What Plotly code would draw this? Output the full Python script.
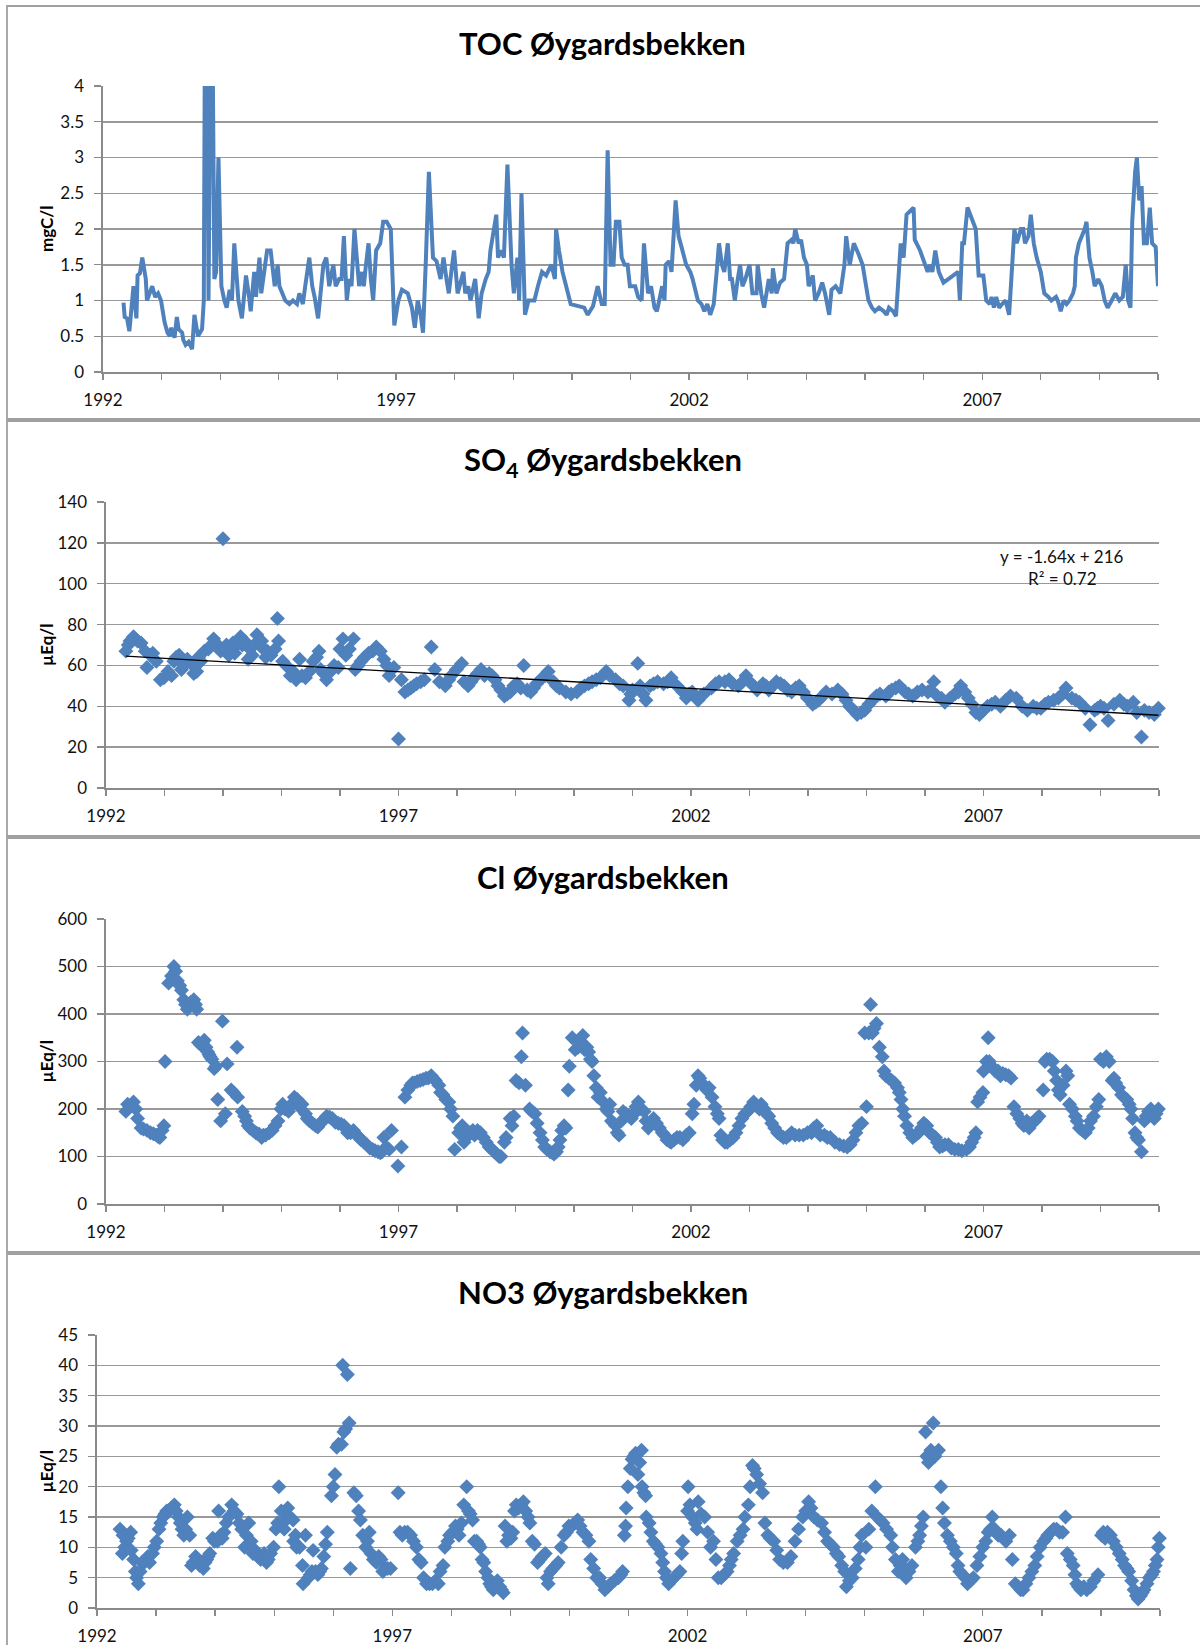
import plotly.graph_objects as go

# ---------------- data (decimal year, value) ----------------
toc_samples = [
    (1992.35, 0.97), (1992.37, 0.77), (1992.41, 0.75), (1992.45, 0.57), (1992.52, 1.2), (1992.57, 0.75),
    (1992.59, 1.35), (1992.63, 1.38), (1992.67, 1.6), (1992.73, 1.3), (1992.75, 1.0), (1992.79, 1.1),
    (1992.84, 1.2), (1992.89, 1.05), (1992.94, 1.1), (1992.99, 1.0),
    (1993.02, 0.8), (1993.05, 0.7), (1993.10, 0.55), (1993.14, 0.5), (1993.16, 0.62), (1993.22, 0.48),
    (1993.26, 0.77), (1993.29, 0.6), (1993.35, 0.55), (1993.37, 0.45), (1993.41, 0.38), (1993.46, 0.42),
    (1993.52, 0.32), (1993.56, 0.8), (1993.62, 0.5), (1993.69, 0.6), (1993.72, 1.0), (1993.74, 5.0),
    (1993.78, 5.0), (1993.80, 1.0), (1993.84, 5.0), (1993.87, 4.6), (1993.90, 1.3), (1993.93, 1.4),
    (1993.97, 3.0),
    (1994.02, 1.2), (1994.07, 1.0), (1994.11, 0.9), (1994.16, 1.15), (1994.20, 1.0), (1994.24, 1.8),
    (1994.31, 1.0), (1994.37, 0.75), (1994.41, 1.1), (1994.44, 1.35), (1994.50, 1.0), (1994.52, 0.85),
    (1994.58, 1.4), (1994.61, 1.05), (1994.67, 1.6), (1994.70, 1.1), (1994.75, 1.4), (1994.80, 1.7),
    (1994.86, 1.7), (1994.90, 1.4), (1994.93, 1.2), (1994.98, 1.5),
    (1995.01, 1.2), (1995.11, 1.0), (1995.18, 0.95), (1995.24, 1.0), (1995.31, 0.95), (1995.35, 1.1),
    (1995.41, 0.95), (1995.45, 1.2), (1995.52, 1.6), (1995.57, 1.2), (1995.61, 1.05), (1995.67, 0.75),
    (1995.72, 1.2), (1995.76, 1.5), (1995.81, 1.6), (1995.86, 1.2), (1995.93, 1.5), (1995.97, 1.2),
    (1996.03, 1.3), (1996.07, 1.3), (1996.11, 1.9), (1996.16, 1.0), (1996.20, 1.3), (1996.24, 1.2),
    (1996.29, 2.0), (1996.33, 1.5), (1996.37, 1.2), (1996.42, 1.4), (1996.45, 1.2), (1996.48, 1.45),
    (1996.53, 1.8), (1996.57, 1.3), (1996.61, 1.0), (1996.66, 1.7), (1996.73, 1.8), (1996.78, 2.1),
    (1996.84, 2.1), (1996.91, 2.0), (1996.97, 0.65),
    (1997.04, 1.0), (1997.10, 1.15), (1997.20, 1.1), (1997.27, 0.9), (1997.32, 0.62), (1997.37, 1.0),
    (1997.42, 0.8), (1997.46, 0.55), (1997.51, 1.6), (1997.56, 2.8), (1997.63, 1.6), (1997.69, 1.55),
    (1997.76, 1.3), (1997.81, 1.6), (1997.86, 1.3), (1997.90, 1.1), (1997.95, 1.45), (1997.99, 1.7),
    (1998.05, 1.1), (1998.15, 1.4), (1998.18, 1.1), (1998.23, 1.2), (1998.27, 1.0), (1998.35, 1.3),
    (1998.41, 0.75), (1998.46, 1.1), (1998.53, 1.3), (1998.58, 1.4), (1998.61, 1.7), (1998.71, 2.2),
    (1998.74, 1.6), (1998.79, 1.7), (1998.84, 1.6), (1998.90, 2.9), (1998.97, 1.5),
    (1999.01, 1.1), (1999.07, 1.6), (1999.10, 1.0), (1999.14, 2.5), (1999.20, 0.8), (1999.26, 1.0),
    (1999.36, 1.0), (1999.42, 1.2), (1999.49, 1.4), (1999.56, 1.35), (1999.65, 1.5), (1999.71, 1.3),
    (1999.73, 2.0), (1999.78, 1.7), (1999.84, 1.4), (1999.98, 0.95),
    (2000.21, 0.9), (2000.27, 0.8), (2000.36, 0.92), (2000.44, 1.2), (2000.51, 0.95), (2000.56, 0.95),
    (2000.61, 3.1), (2000.66, 1.5), (2000.71, 1.5), (2000.75, 2.1), (2000.81, 2.1), (2000.85, 1.6),
    (2000.90, 1.5), (2000.95, 1.5), (2000.99, 1.2),
    (2001.08, 1.2), (2001.13, 1.05), (2001.19, 1.0), (2001.23, 1.8), (2001.30, 1.1), (2001.35, 1.2),
    (2001.41, 0.9), (2001.45, 0.85), (2001.49, 1.0), (2001.54, 1.2), (2001.58, 1.0), (2001.60, 1.5),
    (2001.66, 1.55), (2001.70, 1.4), (2001.77, 2.4), (2001.82, 1.9), (2001.87, 1.75), (2001.95, 1.5),
    (2002.02, 1.4), (2002.06, 1.3), (2002.15, 1.0), (2002.21, 0.95), (2002.26, 0.85), (2002.31, 0.95),
    (2002.36, 0.8), (2002.42, 0.95), (2002.47, 1.4), (2002.51, 1.8), (2002.56, 1.5), (2002.60, 1.4),
    (2002.66, 1.8), (2002.70, 1.3), (2002.73, 1.3), (2002.78, 1.0), (2002.83, 1.3), (2002.87, 1.5),
    (2002.91, 1.2), (2002.96, 1.3),
    (2003.03, 1.5), (2003.08, 1.1), (2003.15, 1.1), (2003.17, 1.5), (2003.23, 1.1), (2003.28, 0.9),
    (2003.36, 1.3), (2003.41, 1.1), (2003.43, 1.45), (2003.49, 1.1), (2003.55, 1.25), (2003.62, 1.3),
    (2003.68, 1.8), (2003.75, 1.85), (2003.78, 1.8), (2003.81, 2.0), (2003.87, 1.8), (2003.91, 1.85),
    (2003.96, 1.6),
    (2004.01, 1.5), (2004.04, 1.2), (2004.11, 1.35), (2004.15, 1.0), (2004.21, 1.1), (2004.27, 1.25),
    (2004.32, 1.1), (2004.39, 0.8), (2004.43, 1.15), (2004.50, 1.2), (2004.58, 1.1), (2004.65, 1.5),
    (2004.68, 1.9), (2004.74, 1.5), (2004.81, 1.8), (2004.89, 1.65), (2004.96, 1.5),
    (2005.06, 1.0), (2005.12, 0.9), (2005.17, 0.85), (2005.24, 0.9), (2005.32, 0.85), (2005.37, 0.8),
    (2005.41, 0.9), (2005.48, 0.85), (2005.53, 0.78), (2005.61, 1.8), (2005.66, 1.6), (2005.71, 2.2),
    (2005.83, 2.3), (2005.85, 1.85), (2005.94, 1.7),
    (2006.02, 1.5), (2006.07, 1.4), (2006.11, 1.5), (2006.15, 1.4), (2006.20, 1.7), (2006.26, 1.4),
    (2006.34, 1.25), (2006.43, 1.3), (2006.53, 1.35), (2006.59, 1.4), (2006.62, 1.0), (2006.66, 1.8),
    (2006.69, 1.8), (2006.75, 2.3), (2006.82, 2.15), (2006.89, 2.0), (2006.94, 1.35),
    (2007.02, 1.35), (2007.07, 1.0), (2007.13, 0.95), (2007.16, 1.05), (2007.20, 0.9), (2007.24, 1.05),
    (2007.29, 0.9), (2007.34, 0.95), (2007.40, 1.0), (2007.46, 0.8), (2007.51, 1.5), (2007.55, 2.0),
    (2007.59, 1.8), (2007.66, 2.0), (2007.70, 2.0), (2007.73, 1.8), (2007.79, 1.9), (2007.83, 2.2),
    (2007.88, 1.8), (2007.93, 1.6),
    (2008.00, 1.4), (2008.06, 1.1), (2008.13, 1.05), (2008.18, 1.0), (2008.26, 1.05), (2008.29, 1.0),
    (2008.34, 0.85), (2008.39, 1.0), (2008.44, 0.95), (2008.49, 1.0), (2008.55, 1.1), (2008.58, 1.2),
    (2008.60, 1.6), (2008.65, 1.8), (2008.70, 1.9), (2008.75, 2.0), (2008.78, 2.1), (2008.83, 1.6),
    (2008.88, 1.4), (2008.92, 1.2), (2008.98, 1.3),
    (2009.04, 1.2), (2009.09, 1.0), (2009.14, 0.9), (2009.21, 1.0), (2009.27, 1.1), (2009.34, 1.0),
    (2009.40, 1.05), (2009.45, 1.5), (2009.49, 1.0), (2009.53, 0.9), (2009.56, 2.1), (2009.61, 2.8),
    (2009.64, 3.0), (2009.68, 2.4), (2009.72, 2.6), (2009.76, 1.8), (2009.81, 1.8), (2009.86, 2.3),
    (2009.90, 1.8), (2009.96, 1.75), (2010.00, 1.2),
]

so4_samples = [
    (1992.34, 67), (1992.38, 70), (1992.41, 72), (1992.47, 74), (1992.50, 73), (1992.54, 72),
    (1992.60, 71), (1992.67, 67), (1992.70, 59), (1992.76, 65), (1992.80, 66), (1992.86, 62),
    (1992.93, 53), (1992.99, 54),
    (1993.06, 57), (1993.12, 55), (1993.16, 62), (1993.20, 64), (1993.25, 65), (1993.29, 58),
    (1993.33, 60), (1993.39, 63), (1993.45, 61), (1993.50, 56), (1993.55, 57), (1993.58, 64),
    (1993.62, 62), (1993.68, 67), (1993.75, 68), (1993.80, 70), (1993.84, 73), (1993.91, 70),
    (1993.96, 67),
    (1994.00, 122), (1994.04, 68), (1994.06, 70), (1994.10, 65), (1994.17, 71), (1994.20, 66),
    (1994.24, 70), (1994.30, 74), (1994.33, 70), (1994.37, 72), (1994.43, 63), (1994.46, 68),
    (1994.50, 65), (1994.53, 70), (1994.58, 75), (1994.63, 70), (1994.66, 72), (1994.69, 68),
    (1994.73, 64), (1994.76, 67), (1994.82, 65), (1994.89, 68), (1994.93, 83), (1994.95, 72),
    (1995.02, 62), (1995.08, 60), (1995.15, 55), (1995.20, 57), (1995.25, 53), (1995.31, 63),
    (1995.35, 55), (1995.41, 54), (1995.48, 57), (1995.54, 62), (1995.60, 64), (1995.64, 67),
    (1995.67, 58), (1995.72, 56), (1995.77, 53), (1995.84, 57), (1995.90, 60), (1995.97, 59),
    (1996.00, 68), (1996.05, 73), (1996.10, 65), (1996.16, 68), (1996.23, 73), (1996.26, 58),
    (1996.31, 60), (1996.36, 62), (1996.42, 64), (1996.49, 66), (1996.56, 67), (1996.62, 69),
    (1996.69, 67), (1996.75, 63), (1996.80, 60), (1996.84, 55), (1996.92, 59),
    (1997.00, 24), (1997.05, 53), (1997.11, 47), (1997.16, 48), (1997.21, 49), (1997.26, 50),
    (1997.31, 51), (1997.38, 52), (1997.44, 53), (1997.56, 69), (1997.62, 58), (1997.70, 52),
    (1997.80, 50), (1997.86, 53), (1997.90, 55), (1997.99, 58),
    (1998.08, 61), (1998.12, 52), (1998.19, 50), (1998.24, 52), (1998.29, 54), (1998.35, 56),
    (1998.41, 58), (1998.47, 55), (1998.55, 56), (1998.60, 55), (1998.65, 53), (1998.70, 50),
    (1998.75, 48), (1998.81, 45), (1998.86, 46), (1998.91, 47), (1998.97, 50),
    (1999.03, 51), (1999.09, 49), (1999.14, 60), (1999.20, 48), (1999.26, 47), (1999.31, 49),
    (1999.36, 51), (1999.46, 54), (1999.51, 55), (1999.56, 57), (1999.65, 52), (1999.70, 50),
    (1999.75, 49), (1999.86, 47), (1999.95, 46),
    (2000.05, 47), (2000.12, 49), (2000.18, 50), (2000.25, 51), (2000.31, 52), (2000.38, 53),
    (2000.45, 54), (2000.55, 57), (2000.61, 55), (2000.71, 53), (2000.78, 51), (2000.84, 50),
    (2000.94, 43), (2000.97, 46),
    (2001.00, 48), (2001.09, 61), (2001.13, 50), (2001.18, 46), (2001.23, 43), (2001.30, 50),
    (2001.36, 51), (2001.43, 52), (2001.53, 51), (2001.60, 52), (2001.66, 54), (2001.76, 50),
    (2001.86, 47), (2001.92, 44), (2001.97, 46),
    (2002.02, 47), (2002.12, 43), (2002.17, 45), (2002.22, 46), (2002.35, 49), (2002.42, 51),
    (2002.48, 52), (2002.58, 52), (2002.65, 53), (2002.71, 51), (2002.81, 50), (2002.88, 52),
    (2002.94, 55),
    (2003.00, 52), (2003.07, 50), (2003.13, 48), (2003.23, 51), (2003.28, 50), (2003.33, 48),
    (2003.40, 50), (2003.46, 52), (2003.53, 51), (2003.59, 50), (2003.65, 48), (2003.72, 47),
    (2003.79, 49), (2003.85, 50), (2003.92, 47), (2003.99, 44),
    (2004.08, 41), (2004.13, 42), (2004.18, 43), (2004.25, 45), (2004.31, 47), (2004.41, 46),
    (2004.51, 48), (2004.58, 46), (2004.65, 43), (2004.71, 40), (2004.78, 38), (2004.84, 36),
    (2004.91, 37), (2004.97, 38),
    (2005.04, 41), (2005.10, 43), (2005.17, 45), (2005.23, 46), (2005.33, 45), (2005.38, 47),
    (2005.43, 48), (2005.50, 49), (2005.56, 50), (2005.66, 47), (2005.72, 46), (2005.79, 45),
    (2005.87, 47), (2005.95, 48),
    (2006.05, 47), (2006.10, 48), (2006.15, 52), (2006.21, 45), (2006.28, 44), (2006.34, 42),
    (2006.43, 44), (2006.51, 46), (2006.57, 47), (2006.61, 50), (2006.68, 47), (2006.74, 44),
    (2006.80, 41), (2006.87, 37), (2006.93, 36),
    (2007.00, 38), (2007.07, 40), (2007.14, 41), (2007.20, 42), (2007.29, 40), (2007.38, 43),
    (2007.46, 45), (2007.56, 44), (2007.66, 40), (2007.75, 38), (2007.85, 40), (2007.91, 39),
    (2007.98, 39),
    (2008.05, 41), (2008.11, 42), (2008.20, 43), (2008.28, 44), (2008.35, 46), (2008.41, 49),
    (2008.51, 44), (2008.58, 43), (2008.64, 42), (2008.74, 39), (2008.82, 31), (2008.90, 38),
    (2008.95, 39),
    (2009.00, 40), (2009.06, 39), (2009.13, 33), (2009.23, 41), (2009.33, 43), (2009.40, 41),
    (2009.46, 40), (2009.56, 42), (2009.62, 37), (2009.70, 25), (2009.75, 38), (2009.83, 37),
    (2009.92, 36), (2009.99, 39),
]

cl_samples = [
    (1992.34, 195), (1992.37, 210), (1992.41, 205), (1992.47, 215), (1992.51, 200), (1992.54, 180),
    (1992.60, 160), (1992.64, 158), (1992.70, 155), (1992.76, 150), (1992.81, 148), (1992.86, 145),
    (1992.89, 142), (1992.92, 140), (1992.96, 155), (1992.99, 165),
    (1993.01, 300), (1993.07, 465), (1993.12, 480), (1993.16, 500), (1993.19, 490), (1993.22, 470),
    (1993.26, 460), (1993.29, 450), (1993.33, 430), (1993.36, 420), (1993.39, 410), (1993.42, 415),
    (1993.45, 425), (1993.50, 430), (1993.53, 420), (1993.55, 410), (1993.58, 340), (1993.62, 335),
    (1993.65, 340), (1993.68, 345), (1993.71, 330), (1993.74, 320), (1993.76, 315), (1993.78, 310),
    (1993.81, 305), (1993.85, 285), (1993.88, 290), (1993.91, 220), (1993.96, 175), (1993.99, 385),
    (1994.04, 190), (1994.07, 295), (1994.14, 240), (1994.18, 235), (1994.24, 330), (1994.25, 225),
    (1994.33, 195), (1994.37, 185), (1994.40, 175), (1994.43, 165), (1994.46, 160), (1994.51, 155),
    (1994.56, 150), (1994.59, 148), (1994.62, 147), (1994.66, 140), (1994.69, 145), (1994.73, 145),
    (1994.79, 150), (1994.84, 155), (1994.89, 165), (1994.94, 175), (1994.99, 200),
    (1995.02, 210), (1995.06, 200), (1995.12, 195), (1995.17, 210), (1995.22, 225), (1995.27, 220),
    (1995.30, 205), (1995.35, 210), (1995.41, 190), (1995.44, 180), (1995.48, 175), (1995.53, 170),
    (1995.58, 165), (1995.62, 162), (1995.67, 170), (1995.72, 178), (1995.77, 185), (1995.82, 183),
    (1995.87, 180), (1995.92, 172), (1995.97, 170),
    (1996.02, 168), (1996.07, 165), (1996.10, 160), (1996.13, 150), (1996.18, 150), (1996.23, 155),
    (1996.26, 148), (1996.29, 145), (1996.33, 140), (1996.36, 135), (1996.41, 130), (1996.46, 125),
    (1996.51, 118), (1996.56, 115), (1996.60, 112), (1996.65, 110), (1996.69, 108), (1996.72, 110),
    (1996.75, 140), (1996.79, 120), (1996.84, 115), (1996.88, 155), (1996.99, 80),
    (1997.05, 120), (1997.11, 225), (1997.16, 240), (1997.21, 250), (1997.24, 255), (1997.27, 255),
    (1997.32, 258), (1997.37, 260), (1997.42, 262), (1997.47, 265), (1997.51, 265), (1997.56, 270),
    (1997.59, 265), (1997.63, 260), (1997.69, 250), (1997.72, 235), (1997.76, 230), (1997.81, 220),
    (1997.86, 215), (1997.89, 200), (1997.93, 185), (1997.96, 115),
    (1998.03, 150), (1998.06, 160), (1998.09, 165), (1998.12, 130), (1998.16, 140), (1998.22, 150),
    (1998.27, 155), (1998.30, 145), (1998.35, 155), (1998.40, 150), (1998.45, 140), (1998.50, 130),
    (1998.55, 120), (1998.60, 115), (1998.64, 110), (1998.68, 105), (1998.72, 100), (1998.75, 100),
    (1998.81, 130), (1998.84, 140), (1998.91, 180), (1998.94, 165), (1998.97, 185),
    (1999.01, 260), (1999.06, 255), (1999.10, 310), (1999.12, 360), (1999.17, 250), (1999.24, 200),
    (1999.28, 195), (1999.33, 190), (1999.37, 170), (1999.42, 150), (1999.46, 135), (1999.50, 120),
    (1999.54, 115), (1999.59, 110), (1999.63, 108), (1999.66, 105), (1999.70, 110), (1999.73, 120),
    (1999.76, 135), (1999.79, 155), (1999.83, 165), (1999.86, 160), (1999.90, 240), (1999.92, 290),
    (1999.97, 350),
    (2000.02, 325), (2000.07, 330), (2000.10, 345), (2000.15, 355), (2000.18, 325), (2000.22, 330),
    (2000.25, 320), (2000.28, 305), (2000.31, 300), (2000.34, 270), (2000.38, 245), (2000.41, 225),
    (2000.45, 235), (2000.50, 215), (2000.55, 200), (2000.58, 195), (2000.61, 210), (2000.64, 175),
    (2000.68, 170), (2000.71, 165), (2000.74, 150), (2000.77, 145), (2000.81, 175), (2000.84, 195),
    (2000.89, 190), (2000.94, 185), (2000.98, 180),
    (2001.03, 190), (2001.06, 205), (2001.10, 215), (2001.15, 200), (2001.20, 195), (2001.23, 175),
    (2001.27, 160), (2001.31, 170), (2001.36, 180), (2001.41, 170), (2001.46, 160), (2001.51, 150),
    (2001.55, 145), (2001.59, 135), (2001.63, 132), (2001.66, 130), (2001.71, 135), (2001.76, 140),
    (2001.81, 140), (2001.86, 135), (2001.92, 145), (2001.97, 150),
    (2002.02, 190), (2002.05, 210), (2002.09, 250), (2002.12, 270), (2002.15, 265), (2002.18, 255),
    (2002.22, 250), (2002.27, 240), (2002.31, 245), (2002.36, 225), (2002.41, 205), (2002.45, 190),
    (2002.48, 180), (2002.51, 145), (2002.54, 135), (2002.58, 130), (2002.62, 130), (2002.67, 135),
    (2002.72, 140), (2002.77, 150), (2002.82, 165), (2002.87, 180), (2002.92, 190), (2002.97, 195),
    (2003.02, 205), (2003.07, 215), (2003.10, 210), (2003.13, 205), (2003.17, 200), (2003.20, 210),
    (2003.25, 200), (2003.29, 190), (2003.33, 185), (2003.38, 170), (2003.43, 160), (2003.48, 150),
    (2003.53, 145), (2003.58, 140), (2003.63, 140), (2003.68, 145), (2003.72, 150), (2003.78, 145),
    (2003.85, 145), (2003.92, 145), (2003.99, 150),
    (2004.06, 150), (2004.10, 160), (2004.15, 165), (2004.21, 145), (2004.28, 145), (2004.33, 140),
    (2004.38, 140), (2004.46, 130), (2004.54, 125), (2004.61, 122), (2004.67, 120), (2004.72, 125),
    (2004.77, 135), (2004.82, 150), (2004.87, 165), (2004.92, 170), (2004.97, 360),
    (2005.00, 205), (2005.04, 360), (2005.07, 420), (2005.10, 360), (2005.13, 370), (2005.17, 380),
    (2005.22, 330), (2005.27, 310), (2005.30, 280), (2005.33, 270), (2005.38, 265), (2005.43, 260),
    (2005.48, 255), (2005.53, 245), (2005.56, 235), (2005.59, 220), (2005.62, 200), (2005.65, 185),
    (2005.69, 165), (2005.74, 150), (2005.79, 140), (2005.84, 145), (2005.89, 150), (2005.94, 160),
    (2005.98, 170),
    (2006.03, 165), (2006.08, 150), (2006.13, 145), (2006.18, 140), (2006.21, 130), (2006.25, 120),
    (2006.30, 122), (2006.34, 125), (2006.40, 125), (2006.45, 118), (2006.51, 115), (2006.57, 115),
    (2006.63, 112), (2006.71, 115), (2006.76, 120), (2006.80, 130), (2006.84, 140), (2006.87, 150),
    (2006.90, 215), (2006.94, 225), (2006.99, 235),
    (2007.00, 280), (2007.05, 300), (2007.08, 350), (2007.10, 300), (2007.14, 290), (2007.20, 280),
    (2007.25, 280), (2007.29, 270), (2007.33, 275), (2007.38, 272), (2007.43, 270), (2007.47, 265),
    (2007.52, 205), (2007.57, 190), (2007.62, 180), (2007.66, 170), (2007.69, 165), (2007.74, 175),
    (2007.78, 160), (2007.82, 170), (2007.88, 175), (2007.91, 180), (2007.95, 185),
    (2008.02, 240), (2008.05, 300), (2008.08, 305), (2008.13, 305), (2008.18, 300), (2008.21, 280),
    (2008.25, 260), (2008.28, 240), (2008.31, 230), (2008.36, 250), (2008.41, 280), (2008.44, 270),
    (2008.47, 210), (2008.52, 200), (2008.57, 185), (2008.60, 175), (2008.64, 160), (2008.69, 155),
    (2008.74, 150), (2008.79, 160), (2008.83, 175), (2008.88, 185), (2008.93, 205), (2008.97, 220),
    (2009.00, 305), (2009.05, 300), (2009.10, 310), (2009.15, 300), (2009.20, 260), (2009.23, 265),
    (2009.26, 255), (2009.31, 245), (2009.36, 230), (2009.40, 225), (2009.45, 220), (2009.49, 210),
    (2009.52, 200), (2009.55, 180), (2009.59, 150), (2009.62, 140), (2009.65, 135), (2009.70, 110),
    (2009.75, 175), (2009.78, 185), (2009.82, 195), (2009.86, 200), (2009.92, 180), (2009.95, 190),
    (2009.99, 200),
]

no3_samples = [
    (1992.39, 13), (1992.43, 9), (1992.44, 12), (1992.47, 10), (1992.50, 11), (1992.53, 11.5),
    (1992.57, 12.5), (1992.58, 9.5), (1992.62, 8), (1992.65, 6), (1992.67, 5), (1992.70, 4),
    (1992.73, 6), (1992.76, 7.5), (1992.80, 7.5), (1992.83, 8), (1992.86, 8.5), (1992.89, 7.5),
    (1992.94, 9), (1992.97, 10),
    (1993.01, 11), (1993.05, 13), (1993.08, 14), (1993.12, 15), (1993.15, 15.5), (1993.18, 16),
    (1993.22, 16), (1993.26, 16.5), (1993.31, 17), (1993.34, 16), (1993.38, 15), (1993.41, 14),
    (1993.44, 13), (1993.47, 12), (1993.50, 13), (1993.53, 15), (1993.57, 12), (1993.60, 7),
    (1993.63, 7.5), (1993.67, 8.5), (1993.70, 8), (1993.74, 7), (1993.77, 7.5), (1993.80, 6.5),
    (1993.83, 7.5), (1993.86, 8), (1993.88, 8.5), (1993.91, 9), (1993.96, 11.5), (1993.99, 11),
    (1994.04, 11), (1994.06, 16), (1994.09, 12), (1994.12, 11.5), (1994.15, 12.5), (1994.19, 14),
    (1994.23, 15), (1994.28, 17), (1994.32, 16), (1994.37, 15.5), (1994.41, 14), (1994.45, 13),
    (1994.50, 10), (1994.53, 12), (1994.57, 14), (1994.61, 11), (1994.64, 9), (1994.68, 9.5),
    (1994.72, 8.5), (1994.77, 8), (1994.80, 8.5), (1994.83, 9), (1994.87, 7.5), (1994.90, 8),
    (1994.94, 9), (1994.99, 10),
    (1995.03, 13), (1995.06, 14), (1995.08, 20), (1995.12, 16), (1995.17, 13), (1995.20, 14.5),
    (1995.23, 16.5), (1995.27, 15), (1995.32, 14.5), (1995.33, 11), (1995.36, 12), (1995.38, 10),
    (1995.43, 10), (1995.48, 7), (1995.49, 4), (1995.53, 12), (1995.58, 5), (1995.61, 5.5),
    (1995.64, 6), (1995.66, 9.5), (1995.70, 6), (1995.74, 5.5), (1995.77, 6), (1995.80, 6.5),
    (1995.84, 8.5), (1995.87, 10.5), (1995.90, 12.5), (1995.97, 18.5),
    (1996.00, 20), (1996.03, 22), (1996.06, 26.5), (1996.09, 27), (1996.14, 27), (1996.16, 40),
    (1996.18, 29), (1996.21, 29.5), (1996.24, 38.5), (1996.27, 30.5), (1996.29, 6.5), (1996.35, 19),
    (1996.39, 18.5), (1996.43, 16), (1996.46, 14.5), (1996.50, 12), (1996.55, 10), (1996.58, 11),
    (1996.61, 12.5), (1996.64, 9), (1996.68, 8), (1996.73, 7.5), (1996.77, 8.5), (1996.81, 8),
    (1996.84, 6), (1996.88, 6.5), (1996.92, 6.5), (1996.97, 6.5),
    (1997.10, 19), (1997.13, 12.5), (1997.17, 12), (1997.21, 12.5), (1997.26, 12.5), (1997.31, 12),
    (1997.36, 11), (1997.41, 10), (1997.45, 8), (1997.49, 7.5), (1997.53, 5), (1997.58, 4),
    (1997.63, 4), (1997.68, 4), (1997.73, 4.5), (1997.78, 4), (1997.81, 6), (1997.86, 7),
    (1997.89, 10), (1997.94, 11), (1997.97, 12),
    (1998.02, 12.5), (1998.07, 13.5), (1998.10, 13), (1998.13, 12), (1998.17, 14), (1998.21, 17),
    (1998.26, 20), (1998.29, 16), (1998.32, 15.5), (1998.36, 14.5), (1998.39, 11), (1998.43, 11),
    (1998.46, 10.5), (1998.49, 10), (1998.52, 8), (1998.55, 7.5), (1998.58, 6), (1998.62, 5),
    (1998.65, 4), (1998.68, 3.5), (1998.71, 3), (1998.74, 3.5), (1998.78, 4.5), (1998.82, 3.5),
    (1998.85, 3), (1998.88, 2.5), (1998.91, 13.5), (1998.94, 11), (1998.97, 12),
    (1999.01, 11.5), (1999.04, 12.5), (1999.07, 16), (1999.10, 17), (1999.14, 16.5), (1999.18, 17),
    (1999.22, 17.5), (1999.26, 16), (1999.30, 15), (1999.33, 14), (1999.37, 11), (1999.41, 10.5),
    (1999.46, 7.5), (1999.50, 8), (1999.54, 8.5), (1999.59, 9), (1999.62, 5), (1999.64, 4),
    (1999.68, 6), (1999.72, 6.5), (1999.77, 7), (1999.81, 7.5), (1999.86, 10), (1999.91, 12),
    (1999.95, 12.5), (1999.99, 13.5),
    (2000.04, 13.5), (2000.09, 14), (2000.14, 14.5), (2000.18, 13.5), (2000.23, 12.5), (2000.28, 12),
    (2000.33, 11), (2000.36, 8), (2000.41, 6.5), (2000.46, 5), (2000.51, 5), (2000.55, 4),
    (2000.60, 3), (2000.65, 3.5), (2000.70, 4), (2000.76, 4.5), (2000.83, 5), (2000.87, 5.5),
    (2000.90, 6), (2000.93, 12), (2000.95, 13.5), (2000.96, 16.5), (2000.99, 20),
    (2001.03, 23), (2001.06, 24.5), (2001.09, 25), (2001.12, 25.5), (2001.16, 22), (2001.19, 24),
    (2001.22, 26), (2001.23, 20), (2001.26, 19), (2001.29, 18.5), (2001.30, 15), (2001.35, 14),
    (2001.38, 12.5), (2001.42, 11), (2001.46, 10.5), (2001.50, 10), (2001.55, 9), (2001.58, 7.5),
    (2001.61, 6), (2001.64, 5), (2001.68, 4), (2001.72, 4.5), (2001.77, 5), (2001.82, 5.5),
    (2001.87, 6), (2001.90, 9), (2001.92, 11),
    (2002.00, 16), (2002.01, 20), (2002.04, 17), (2002.08, 15), (2002.13, 14), (2002.16, 13),
    (2002.18, 17.5), (2002.23, 15.5), (2002.29, 15), (2002.34, 12.5), (2002.39, 10), (2002.44, 11),
    (2002.48, 8), (2002.52, 5), (2002.57, 5), (2002.62, 5.5), (2002.67, 6), (2002.71, 7),
    (2002.74, 8), (2002.78, 9), (2002.84, 11), (2002.89, 12), (2002.94, 13), (2002.97, 15),
    (2003.03, 17), (2003.06, 20), (2003.10, 23.5), (2003.13, 23), (2003.17, 22), (2003.22, 20.5),
    (2003.27, 19), (2003.31, 14), (2003.36, 12), (2003.40, 11.5), (2003.46, 11), (2003.51, 9.5),
    (2003.56, 8), (2003.62, 7.5), (2003.69, 7.5), (2003.75, 8.5), (2003.82, 11), (2003.88, 13),
    (2003.95, 15),
    (2004.00, 16), (2004.05, 17.5), (2004.09, 16.5), (2004.14, 15), (2004.20, 14.5), (2004.27, 14),
    (2004.32, 12.5), (2004.37, 11), (2004.42, 10.5), (2004.47, 10), (2004.52, 9), (2004.56, 8.5),
    (2004.61, 7), (2004.66, 6), (2004.69, 3.5), (2004.74, 4.5), (2004.79, 5), (2004.84, 6.5),
    (2004.89, 8), (2004.92, 10), (2004.95, 12),
    (2005.02, 10), (2005.07, 13), (2005.12, 16), (2005.18, 20), (2005.21, 15), (2005.26, 14.5),
    (2005.31, 14), (2005.37, 13), (2005.44, 12), (2005.47, 10), (2005.52, 8), (2005.57, 6),
    (2005.60, 7), (2005.64, 8), (2005.67, 6.5), (2005.70, 5), (2005.75, 6), (2005.80, 7),
    (2005.86, 10), (2005.90, 11), (2005.93, 12), (2005.96, 13.5), (2005.99, 15),
    (2006.03, 29), (2006.05, 25), (2006.08, 24), (2006.12, 26), (2006.16, 30.5), (2006.19, 25),
    (2006.25, 26), (2006.29, 20), (2006.32, 16.5), (2006.35, 14), (2006.40, 12), (2006.45, 11),
    (2006.50, 10), (2006.55, 9), (2006.58, 7), (2006.61, 6), (2006.66, 5.5), (2006.70, 5),
    (2006.74, 4), (2006.79, 4.5), (2006.84, 5), (2006.90, 7), (2006.95, 8.5),
    (2007.00, 10), (2007.05, 11), (2007.09, 12.5), (2007.13, 13), (2007.16, 15), (2007.20, 13),
    (2007.26, 12), (2007.31, 12), (2007.35, 11.5), (2007.39, 11), (2007.45, 12), (2007.50, 8),
    (2007.55, 4), (2007.60, 3.5), (2007.64, 3), (2007.68, 3), (2007.73, 4), (2007.78, 5),
    (2007.83, 6), (2007.88, 7), (2007.92, 8.5), (2007.97, 10),
    (2008.03, 11), (2008.07, 11.5), (2008.10, 12), (2008.15, 12.5), (2008.20, 13), (2008.25, 13),
    (2008.30, 12.5), (2008.35, 12.5), (2008.40, 15), (2008.43, 9), (2008.48, 8), (2008.53, 7),
    (2008.56, 5.5), (2008.59, 4), (2008.62, 3.5), (2008.66, 3), (2008.71, 3.5), (2008.76, 3),
    (2008.82, 3.5), (2008.88, 4.5), (2008.95, 5.5),
    (2009.01, 12), (2009.04, 12.5), (2009.07, 11.5), (2009.11, 12.5), (2009.16, 12), (2009.21, 11),
    (2009.26, 10), (2009.31, 9), (2009.36, 8), (2009.40, 7), (2009.44, 6.5), (2009.47, 6),
    (2009.52, 4.5), (2009.56, 3), (2009.60, 2), (2009.63, 1.5), (2009.67, 2), (2009.70, 2.5),
    (2009.73, 3), (2009.78, 4), (2009.82, 5), (2009.86, 5.5), (2009.89, 6), (2009.92, 7),
    (2009.95, 8), (2009.97, 10), (2009.99, 11.5),
]

# linear trend shown on the SO4 chart: y = -1.64x + 216 (x = year - 1900), R2 = 0.72
so4_slope = -1.64
so4_intercept = 216
so4_r2 = 0.72

x_label_years = [1992, 1997, 2002, 2007]
x_labels = ["1992", "1997", "2002", "2007"]
x_minor_years = list(range(1992, 2011))
toc_ticks = [0, 0.5, 1, 1.5, 2, 2.5, 3, 3.5, 4]
so4_ticks = [0, 20, 40, 60, 80, 100, 120, 140]
cl_ticks = [0, 100, 200, 300, 400, 500, 600]
no3_ticks = [0, 5, 10, 15, 20, 25, 30, 35, 40, 45]

titles = ["TOC Øygardsbekken", "SO<sub>4</sub> Øygardsbekken", "Cl Øygardsbekken", "NO3 Øygardsbekken"]
y_titles = ["mgC/l", "µEq/l", "µEq/l", "µEq/l"]

# ---------------- styling / layout ----------------
W, H = 1200, 1645
BLUE = "#4F81BD"
GRID = "#999999"
AXIS = "#8a8a8a"
FONT = "Lato"
TXT = "#111111"

boxes = [  # plot areas in pixels: left, right, top, bottom
    (103, 1158, 86, 372),
    (106, 1159, 502, 788),
    (106, 1159, 919, 1204),
    (97, 1160, 1335, 1608),
]
title_y = [43, 462, 877, 1292]
panel_frames = [(7, 6, 1230, 419), (7, 421, 1230, 836), (7, 838, 1230, 1252), (7, 1254, 1230, 1700)]


def px(x):
    return x / W


def py(y):
    return 1 - y / H


def split(samples):
    return [s[0] for s in samples], [s[1] for s in samples]


fig = go.Figure()

tx, tv = split(toc_samples)
fig.add_trace(go.Scatter(x=tx, y=tv, mode="lines", line=dict(color=BLUE, width=4),
                         xaxis="x", yaxis="y", showlegend=False, hoverinfo="skip"))

marker = dict(symbol="diamond", size=11.5, color=BLUE, line=dict(width=0))
for i, samples in enumerate([so4_samples, cl_samples, no3_samples], start=2):
    sx, sv = split(samples)
    fig.add_trace(go.Scatter(x=sx, y=sv, mode="markers", marker=marker, cliponaxis=False,
                             xaxis=f"x{i}", yaxis=f"y{i}", showlegend=False, hoverinfo="skip"))

sx, _ = split(so4_samples)
trend_x = [sx[0], sx[-1]]
trend_y = [so4_intercept + so4_slope * (x - 1900) for x in trend_x]
fig.add_trace(go.Scatter(x=trend_x, y=trend_y, mode="lines", line=dict(color="black", width=1.3),
                         xaxis="x2", yaxis="y2", showlegend=False, hoverinfo="skip"))

tick_font = dict(family=FONT, size=17, color=TXT)
yticks = [toc_ticks, so4_ticks, cl_ticks, no3_ticks]
layout = {}
for i, (l, r, t, b) in enumerate(boxes):
    n = "" if i == 0 else str(i + 1)
    layout[f"xaxis{n}"] = dict(
        domain=[px(l), px(r)], anchor=f"y{n}", range=[1992, 2010], automargin=False,
        tickmode="array", tickvals=x_label_years, ticktext=x_labels,
        ticks="outside", ticklen=6, tickwidth=1.3, tickcolor=AXIS,
        minor=dict(tickmode="array", tickvals=x_minor_years, ticks="outside", ticklen=6,
                   tickwidth=1.3, tickcolor=AXIS, showgrid=False),
        showline=True, linecolor=AXIS, linewidth=1.6, showgrid=False, zeroline=False,
        tickfont=tick_font, ticklabelstandoff=6, fixedrange=True,
    )
    tv_ = yticks[i]
    layout[f"yaxis{n}"] = dict(
        domain=[py(b), py(t)], anchor=f"x{n}", range=[0, tv_[-1]], automargin=False,
        tickmode="array", tickvals=tv_, ticktext=[f"{v:g}" for v in tv_],
        ticks="outside", ticklen=7, tickwidth=1.3, tickcolor=AXIS,
        showline=True, linecolor=AXIS, linewidth=1.6,
        showgrid=True, gridcolor=GRID, gridwidth=1.5, zeroline=False,
        tickfont=tick_font, ticklabelstandoff=7, fixedrange=True,
    )

annotations = []
for i, (l, r, t, b) in enumerate(boxes):
    annotations.append(dict(x=px(603), y=py(title_y[i]), xref="paper", yref="paper",
                            text=f"<b>{titles[i]}</b>", showarrow=False,
                            xanchor="center", yanchor="middle",
                            font=dict(family=FONT, size=31, color="black")))
    annotations.append(dict(x=px(46), y=py((t + b) / 2), xref="paper", yref="paper",
                            text=f"<b>{y_titles[i]}</b>", showarrow=False, textangle=-90,
                            xanchor="center", yanchor="middle",
                            font=dict(family=FONT, size=17, color="black")))

annotations.append(dict(x=px(1062), y=py(556), xref="paper", yref="paper",
                        text=f"y = {so4_slope}x + {so4_intercept}", showarrow=False,
                        xanchor="center", yanchor="middle",
                        font=dict(family=FONT, size=17, color=TXT)))
annotations.append(dict(x=px(1062), y=py(579), xref="paper", yref="paper",
                        text=f"R² = {so4_r2}", showarrow=False,
                        xanchor="center", yanchor="middle",
                        font=dict(family=FONT, size=17, color=TXT)))

shapes = []
for (x0, y0, x1, y1) in panel_frames:
    shapes.append(dict(type="rect", xref="paper", yref="paper",
                       x0=px(x0), x1=px(x1), y0=py(y1), y1=py(y0),
                       line=dict(color="#a0a0a0", width=1.8), fillcolor="rgba(0,0,0,0)",
                       layer="below"))

fig.update_layout(
    width=W, height=H, margin=dict(l=0, r=0, t=0, b=0, autoexpand=False),
    paper_bgcolor="white", plot_bgcolor="white",
    annotations=annotations, shapes=shapes,
    font=dict(family=FONT, size=17, color=TXT),
    **layout,
)

fig.write_html(
    "out.html",
    config={"displayModeBar": False, "staticPlot": True},
    post_script="document.body.style.margin='0';document.body.style.overflow='hidden';",
)
